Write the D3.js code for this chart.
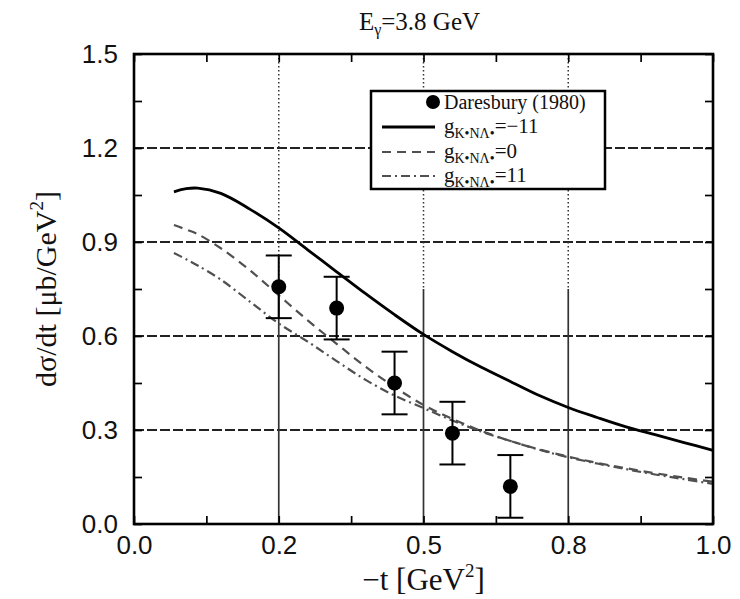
<!DOCTYPE html>
<html>
<head>
<meta charset="utf-8">
<script src="https://cdn.jsdelivr.net/npm/d3@7"></script>
<style>
  body { margin: 0; background: #fff; }
  svg { display: block; }
</style>
</head>
<body>
<svg id="chart" width="740" height="599"></svg>
<script>
// ---------------- data ----------------
const xTickValues = [0, 0.25, 0.5, 0.75, 1.0];
const xTickLabels = ["0.0", "0.2", "0.5", "0.8", "1.0"];
const xMinorTicks = [0, 0.125, 0.25, 0.375, 0.5, 0.625, 0.75, 0.875, 1.0];
const yTickValues = [0, 0.3, 0.6, 0.9, 1.2, 1.5];
const yTickLabels = ["0.0", "0.3", "0.6", "0.9", "1.2", "1.5"];
const yMinorTicks = [0, 0.15, 0.3, 0.45, 0.6, 0.75, 0.9, 1.05, 1.2, 1.35, 1.5];
const xGrid = [0.25, 0.5, 0.75];
const yGrid = [0.3, 0.6, 0.9, 1.2];

// Daresbury (1980) data
const dataT   = [0.25, 0.35, 0.45, 0.55, 0.65];
const dataY   = [0.757, 0.689, 0.45, 0.29, 0.12];
const dataErr = [0.10, 0.10, 0.10, 0.10, 0.10];

// model curves
const curveT = [0.069, 0.09, 0.11, 0.15, 0.2, 0.25, 0.3, 0.35, 0.4, 0.45, 0.5,
                0.55, 0.6, 0.65, 0.7, 0.75, 0.8, 0.85, 0.9, 0.95, 1.0];
const gMinus11 = [1.06, 1.07, 1.072, 1.055, 1.005, 0.945, 0.875, 0.805, 0.735, 0.668, 0.605,
                  0.55, 0.5, 0.455, 0.41, 0.372, 0.34, 0.31, 0.285, 0.26, 0.235];
const gZero = [0.954, 0.94, 0.925, 0.88, 0.81, 0.73, 0.65, 0.575, 0.502, 0.437, 0.38,
               0.335, 0.297, 0.265, 0.238, 0.215, 0.195, 0.178, 0.162, 0.148, 0.135];
const gPlus11 = [0.865, 0.845, 0.825, 0.78, 0.71, 0.64, 0.582, 0.52, 0.46, 0.41, 0.37,
                 0.33, 0.295, 0.265, 0.237, 0.213, 0.193, 0.175, 0.158, 0.143, 0.128];

// ---------------- layout ----------------
const L = 134, R = 713, T = 54, B = 524;
const svg = d3.select("#chart");
const x = d3.scaleLinear().domain([0, 1]).range([L, R]);
const y = d3.scaleLinear().domain([0, 1.5]).range([B, T]);
const serif = "'Liberation Serif','Times New Roman',serif";
const sans = "'Liberation Sans',Arial,Helvetica,sans-serif";

// grid: horizontal dashed
svg.append("g").selectAll("line").data(yGrid).join("line")
  .attr("x1", L).attr("x2", R)
  .attr("y1", d => y(d)).attr("y2", d => y(d))
  .attr("stroke", "#222").attr("stroke-width", 2)
  .attr("stroke-dasharray", "10,3");

// grid: vertical dotted above, solid below
const gridSplit = 0.75;
svg.append("g").selectAll("line").data(xGrid).join("line")
  .attr("x1", d => x(d)).attr("x2", d => x(d))
  .attr("y1", T).attr("y2", y(gridSplit))
  .attr("stroke", "#333").attr("stroke-width", 1.5)
  .attr("stroke-dasharray", "1.5,2.5");
svg.append("g").selectAll("line").data(xGrid).join("line")
  .attr("x1", d => x(d)).attr("x2", d => x(d))
  .attr("y1", y(gridSplit)).attr("y2", B)
  .attr("stroke", "#333").attr("stroke-width", 1.7);

// ---------------- axes ----------------
function styleAxis(g) {
  g.select(".domain").remove();
  g.selectAll(".tick line").attr("stroke", "#000").attr("stroke-width", 1.7);
}
// minor/major ticks on all sides (inward)
svg.append("g").attr("transform", `translate(0,${B})`)
  .call(d3.axisBottom(x).tickValues(xMinorTicks).tickSize(-8).tickFormat(""))
  .call(styleAxis);
svg.append("g").attr("transform", `translate(0,${T})`)
  .call(d3.axisTop(x).tickValues(xMinorTicks).tickSize(-8).tickFormat(""))
  .call(styleAxis);
svg.append("g").attr("transform", `translate(${L},0)`)
  .call(d3.axisLeft(y).tickValues(yMinorTicks).tickSize(-8).tickFormat(""))
  .call(styleAxis);
svg.append("g").attr("transform", `translate(${R},0)`)
  .call(d3.axisRight(y).tickValues(yMinorTicks).tickSize(-8).tickFormat(""))
  .call(styleAxis);

// labelled axes
const xAx = svg.append("g").attr("transform", `translate(0,${B})`)
  .call(d3.axisBottom(x).tickValues(xTickValues).tickSize(0).tickPadding(12)
    .tickFormat((d, i) => xTickLabels[i]))
  .call(styleAxis);
xAx.selectAll("text").attr("font-family", sans).attr("font-size", 26).attr("fill", "#111");

const yAx = svg.append("g").attr("transform", `translate(${L},0)`)
  .call(d3.axisLeft(y).tickValues(yTickValues).tickSize(0).tickPadding(16)
    .tickFormat((d, i) => yTickLabels[i]))
  .call(styleAxis);
yAx.selectAll("text").attr("font-family", sans).attr("font-size", 26).attr("fill", "#111");

// ---------------- curves ----------------
const line = d3.line().curve(d3.curveCatmullRom.alpha(0.5))
  .x(d => x(d[0])).y(d => y(d[1]));

svg.append("path").datum(curveT.map((t, i) => [t, gZero[i]]))
  .attr("d", line).attr("fill", "none").attr("stroke", "#505050")
  .attr("stroke-width", 2.2).attr("stroke-dasharray", "9,6");
svg.append("path").datum(curveT.map((t, i) => [t, gPlus11[i]]))
  .attr("d", line).attr("fill", "none").attr("stroke", "#505050")
  .attr("stroke-width", 2.2).attr("stroke-dasharray", "9,4,2,4");
svg.append("path").datum(curveT.map((t, i) => [t, gMinus11[i]]))
  .attr("d", line).attr("fill", "none").attr("stroke", "#000")
  .attr("stroke-width", 2.8);

// ---------------- data points ----------------
const pts = dataT.map((t, i) => ({ t, v: dataY[i], e: dataErr[i] }));
const eb = svg.append("g");
eb.selectAll("line.v").data(pts).join("line")
  .attr("x1", d => x(d.t)).attr("x2", d => x(d.t))
  .attr("y1", d => y(d.v - d.e)).attr("y2", d => y(d.v + d.e))
  .attr("stroke", "#000").attr("stroke-width", 2);
eb.selectAll("line.top").data(pts).join("line")
  .attr("x1", d => x(d.t) - 13).attr("x2", d => x(d.t) + 13)
  .attr("y1", d => y(d.v + d.e)).attr("y2", d => y(d.v + d.e))
  .attr("stroke", "#000").attr("stroke-width", 2);
eb.selectAll("line.bot").data(pts).join("line")
  .attr("x1", d => x(d.t) - 13).attr("x2", d => x(d.t) + 13)
  .attr("y1", d => y(d.v - d.e)).attr("y2", d => y(d.v - d.e))
  .attr("stroke", "#000").attr("stroke-width", 2);
eb.selectAll("circle").data(pts).join("circle")
  .attr("cx", d => x(d.t)).attr("cy", d => y(d.v)).attr("r", 7.5)
  .attr("fill", "#000");

// ---------------- frame ----------------
svg.append("rect").attr("x", L).attr("y", T).attr("width", R - L).attr("height", B - T)
  .attr("fill", "none").attr("stroke", "#000").attr("stroke-width", 2.6);

// ---------------- legend ----------------
const lg = svg.append("g");
lg.append("rect").attr("x", 371).attr("y", 91).attr("width", 234).attr("height", 98)
  .attr("fill", "#fff").attr("stroke", "#000").attr("stroke-width", 2.5);
lg.append("circle").attr("cx", 433).attr("cy", 102).attr("r", 7).attr("fill", "#000");
lg.append("text").attr("x", 444).attr("y", 109).attr("font-family", serif)
  .attr("font-size", 20).attr("fill", "#111").text("Daresbury (1980)");

const legendRows = [
  { y: 127, label: "=\u221211", stroke: "#000", w: 2.8, dash: null },
  { y: 152, label: "=0", stroke: "#505050", w: 2.2, dash: "9,6" },
  { y: 176, label: "=11", stroke: "#505050", w: 2.2, dash: "9,4,2,4" }
];
legendRows.forEach(r => {
  lg.append("line").attr("x1", 382).attr("x2", 435).attr("y1", r.y).attr("y2", r.y)
    .attr("stroke", r.stroke).attr("stroke-width", r.w)
    .attr("stroke-dasharray", r.dash);
  const t = lg.append("text").attr("x", 444).attr("y", r.y + 6)
    .attr("font-family", serif).attr("font-size", 21).attr("fill", "#111");
  t.append("tspan").text("g");
  t.append("tspan").attr("font-size", 14).attr("dy", 5).text("K\u2022N\u039B\u2022");
  t.append("tspan").attr("dy", -5).text(r.label);
});

// ---------------- titles ----------------
const title = svg.append("text").attr("x", (L + R) / 2 - 4).attr("y", 30)
  .attr("text-anchor", "middle").attr("font-family", serif).attr("font-size", 25)
  .attr("fill", "#111");
title.append("tspan").text("E");
title.append("tspan").attr("font-size", 16).attr("dy", 5).text("\u03B3");
title.append("tspan").attr("dy", -5).text("=3.8 GeV");

const xt = svg.append("text").attr("x", (L + R) / 2).attr("y", 590)
  .attr("text-anchor", "middle").attr("font-family", serif).attr("font-size", 31)
  .attr("fill", "#111");
xt.append("tspan").text("\u2212t [GeV");
xt.append("tspan").attr("font-size", 19).attr("dy", -13).text("2");
xt.append("tspan").attr("dy", 13).text("]");

const yt = svg.append("text")
  .attr("transform", `translate(56,${(T + B) / 2}) rotate(-90)`)
  .attr("text-anchor", "middle").attr("font-family", serif).attr("font-size", 30)
  .attr("fill", "#111");
yt.append("tspan").text("d\u03C3/dt [\u03BCb/GeV");
yt.append("tspan").attr("font-size", 19).attr("dy", -13).text("2");
yt.append("tspan").attr("dy", 13).text("]");
</script>
</body>
</html>
